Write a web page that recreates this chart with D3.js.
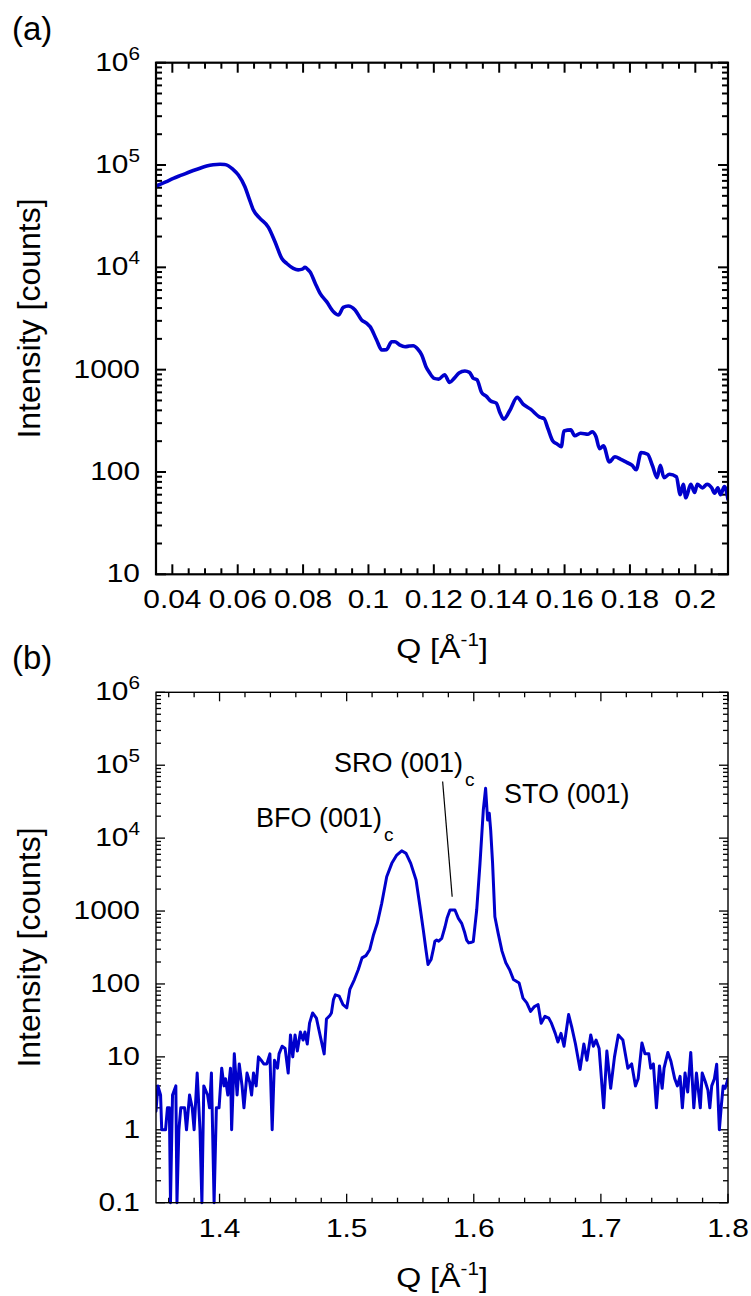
<!DOCTYPE html>
<html>
<head>
<meta charset="utf-8">
<script src="https://cdn.jsdelivr.net/npm/d3@7"></script>
<style>
  body { margin: 0; background: #fff; }
  svg { display: block; }
  text { font-family: "Liberation Sans", Arial, Helvetica, sans-serif; fill: #000; }
</style>
</head>
<body>
<svg id="fig" width="751" height="1296"></svg>
<script>
// ---- Panel (a): low-angle reflectivity, Q [1/Å] vs intensity [counts] ----
const qA = [
  0.0350, 0.0380, 0.0403, 0.0430, 0.0454, 0.0480, 0.0505, 0.0525, 0.0546, 0.0560,
  0.0571, 0.0585, 0.0602, 0.0622, 0.0635, 0.0648, 0.0668, 0.0694, 0.0714, 0.0735,
  0.0750, 0.0770, 0.0785, 0.0798, 0.0806, 0.0815, 0.0821, 0.0837, 0.0852, 0.0872,
  0.0893, 0.0908, 0.0923, 0.0938, 0.0959, 0.0979, 0.0995, 0.1005, 0.1025, 0.1041,
  0.1055, 0.1071, 0.1081, 0.1095, 0.1112, 0.1125, 0.1137, 0.1150, 0.1163, 0.1176,
  0.1186, 0.1201, 0.1215, 0.1233, 0.1248, 0.1262, 0.1277, 0.1295, 0.1309, 0.1321,
  0.1332, 0.1346, 0.1361, 0.1373, 0.1391, 0.1402, 0.1414, 0.1432, 0.1455, 0.1473,
  0.1496, 0.1526, 0.1537, 0.1549, 0.1564, 0.1578, 0.1590, 0.1598, 0.1619, 0.1631,
  0.1649, 0.1672, 0.1684, 0.1696, 0.1707, 0.1719, 0.1737, 0.1754, 0.1772, 0.1790,
  0.1807, 0.1819, 0.1834, 0.1854, 0.1869, 0.1883, 0.1893, 0.1904, 0.1921, 0.1942,
  0.1954, 0.1963, 0.1971, 0.1986, 0.1998, 0.2006, 0.2022, 0.2036, 0.2050, 0.2059,
  0.2069, 0.2077, 0.2089, 0.2100
];
const intensityA = [
  62400, 68500, 74100, 80000, 86000, 92000, 97700, 100500, 101600, 101000,
  98400, 91000, 79800, 61400, 47000, 36300, 30100, 24600, 17800, 12200,
  10900, 9780, 9450, 9600, 10000, 9500, 9060, 7000, 5570, 4620,
  3680, 3420, 4060, 4190, 3830, 3060, 2830, 2630, 1950, 1555,
  1570, 1875, 1875, 1750, 1675, 1700, 1714, 1600, 1390, 1070,
  942, 822, 809, 893, 751, 822, 927, 970, 942, 822,
  798, 600, 548, 497, 471, 382, 328, 396, 536, 461,
  411, 341, 333, 266, 201, 187, 177, 252, 258, 226,
  239, 234, 247, 222, 169, 180, 125, 141, 133, 124,
  116, 105, 155, 149, 115, 88, 116, 88, 95, 90,
  60, 76, 56, 76, 63, 76, 70, 76, 70, 62,
  70, 60, 72, 54
];
const xTicksA = [0.04, 0.06, 0.08, 0.1, 0.12, 0.14, 0.16, 0.18, 0.2];
const xTickLabelsA = ["0.04", "0.06", "0.08", "0.1", "0.12", "0.14", "0.16", "0.18", "0.2"];
const yTicksA = [10, 100, 1000, 1e4, 1e5, 1e6];
const yTickLabelsA = ["10", "100", "1000", "10^4", "10^5", "10^6"];

// ---- Panel (b): wide-angle scan around the (001) reflections ----
const qB = [
  1.3500, 1.3515, 1.3536, 1.3545, 1.3575, 1.3590, 1.3605, 1.3614, 1.3630, 1.3656,
  1.3665, 1.3680, 1.3695, 1.3725, 1.3740, 1.3764, 1.3785, 1.3800, 1.3824, 1.3846,
  1.3861, 1.3876, 1.3906, 1.3921, 1.3936, 1.3957, 1.3975, 1.3996, 1.4017, 1.4035,
  1.4047, 1.4065, 1.4086, 1.4095, 1.4116, 1.4138, 1.4155, 1.4177, 1.4192, 1.4216,
  1.4237, 1.4252, 1.4267, 1.4288, 1.4306, 1.4327, 1.4348, 1.4372, 1.4396, 1.4414,
  1.4432, 1.4456, 1.4468, 1.4492, 1.4516, 1.4540, 1.4558, 1.4576, 1.4594, 1.4612,
  1.4636, 1.4657, 1.4672, 1.4690, 1.4708, 1.4732, 1.4762, 1.4793, 1.4823, 1.4841,
  1.4868, 1.4880, 1.4896, 1.4911, 1.4941, 1.4971, 1.5001, 1.5025, 1.5061, 1.5091,
  1.5121, 1.5152, 1.5182, 1.5212, 1.5242, 1.5276, 1.5315, 1.5355, 1.5394, 1.5433,
  1.5467, 1.5504, 1.5546, 1.5577, 1.5603, 1.5624, 1.5640, 1.5664, 1.5682, 1.5694,
  1.5708, 1.5724, 1.5748, 1.5774, 1.5790, 1.5813, 1.5852, 1.5879, 1.5905, 1.5929,
  1.5944, 1.5960, 1.5975, 1.5996, 1.6023, 1.6049, 1.6075, 1.6093, 1.6109, 1.6122,
  1.6133, 1.6148, 1.6166, 1.6192, 1.6222, 1.6252, 1.6282, 1.6312, 1.6357, 1.6387,
  1.6417, 1.6447, 1.6477, 1.6506, 1.6530, 1.6560, 1.6590, 1.6611, 1.6641, 1.6662,
  1.6686, 1.6710, 1.6746, 1.6770, 1.6800, 1.6836, 1.6866, 1.6890, 1.6920, 1.6941,
  1.6962, 1.6986, 1.7022, 1.7047, 1.7077, 1.7107, 1.7137, 1.7173, 1.7212, 1.7242,
  1.7272, 1.7293, 1.7323, 1.7347, 1.7377, 1.7392, 1.7413, 1.7437, 1.7461, 1.7482,
  1.7497, 1.7527, 1.7551, 1.7581, 1.7602, 1.7623, 1.7641, 1.7662, 1.7683, 1.7707,
  1.7731, 1.7752, 1.7782, 1.7797, 1.7821, 1.7842, 1.7857, 1.7872, 1.7893, 1.7911,
  1.7932, 1.7947, 1.7962, 1.7977, 1.8000
];
const intensityB = [
  1.8, 4, 3, 1, 1, 2, 2, 0.1, 3, 4,
  0.1, 1, 2, 2, 1, 3, 2, 1, 6, 1,
  0.1, 4, 3, 2, 6, 0.1, 2, 2, 7, 4,
  5, 3, 7, 1, 11, 3, 8, 4, 2, 6,
  4.5, 3, 6, 4, 10, 9, 8, 8, 11, 1,
  9, 7, 11, 14, 13, 6, 20, 10, 20, 12,
  22, 17, 22, 15, 29, 40, 34, 19, 11, 33,
  37, 40, 61, 71, 68, 52, 47, 84, 115, 157,
  228, 245, 297, 477, 690, 1277, 2960, 4510, 5860, 6710,
  6180, 4510, 2660, 1146, 548, 292, 185, 216, 300, 386,
  400, 386, 422, 609, 800, 1033, 1033, 794, 678, 503,
  400, 366, 370, 380, 1033, 4510, 24300, 48200, 17700, 21900,
  12900, 4510, 836, 494, 282, 195, 157, 115, 103, 64,
  55, 42, 49, 52, 29, 36, 34, 29, 21, 16,
  21, 14, 38, 26, 15, 6.7, 15, 9, 20, 14,
  17, 13, 2, 12, 3.7, 10, 20, 17, 7, 8,
  4, 5, 15.5, 11, 11, 7, 8, 2, 7.5, 3.7,
  7, 11.5, 8.7, 5, 4, 5.4, 2, 6, 3.3, 11.5,
  2, 6, 2, 6, 4.6, 3.5, 2, 4, 5, 7.9,
  1, 2.1, 4, 3.7, 5
];
const xTicksB = [1.4, 1.5, 1.6, 1.7, 1.8];
const xTickLabelsB = ["1.4", "1.5", "1.6", "1.7", "1.8"];
const yTicksB = [0.1, 1, 10, 100, 1000, 1e4, 1e5, 1e6];
const yTickLabelsB = ["0.1", "1", "10", "100", "1000", "10^4", "10^5", "10^6"];

// Peak labels in panel (b): [text, subscript, Q, intensity] (text baseline-left anchor)
const peakLabels = [
  ["BFO (001)", "c", 1.4287, 14000],
  ["SRO (001)", "c", 1.4900, 81500],
  ["STO (001)", "", 1.6238, 30000]
];
// Leader from the SRO label down to its peak: [Q, intensity] end points
const sroLeader = [[1.5755, 59700], [1.5830, 1570]];

const LINE_COLOR = "#0000cc";
const TEXT_STRETCH = 1.15;   // tick and axis labels are set slightly wide

const svg = d3.select("#fig");

function setLabel(sel, label, supSize, supShift) {
  const parts = label.split("^");
  sel.append("tspan").text(parts[0]);
  if (parts.length > 1) {
    sel.append("tspan").attr("dy", -supShift).style("font-size", supSize + "px").text(parts[1]);
  }
}

function drawPanel(cfg) {
  const x = d3.scaleLinear().domain(cfg.xDomain).range([cfg.left, cfg.right]);
  const y = d3.scaleLog().domain(cfg.yDomain).range([cfg.bottom, cfg.top]);
  const g = svg.append("g");

  // ticks: minor positions on the x axis, decade sub-divisions on the y axis
  const xAll = d3.range(cfg.xMinorRange[0], cfg.xMinorRange[1] + 1).map(k => k * cfg.xMinorStep);
  const xMinor = xAll.filter((v, i) => (cfg.xMinorRange[0] + i) % cfg.xMajorEvery !== 0);
  const yMinor = [];
  const e0 = Math.round(Math.log10(cfg.yDomain[0])), e1 = Math.round(Math.log10(cfg.yDomain[1]));
  for (let e = e0; e < e1; e++) for (let m = 2; m <= 9; m++) yMinor.push(m * Math.pow(10, e));

  const tickG = g.append("g").attr("stroke", "#000").attr("stroke-width", cfg.tickWidth);
  const xt = [...cfg.xTicks.map(v => ({v, len: cfg.majorLen})), ...xMinor.map(v => ({v, len: cfg.minorLen}))];
  const yt = [...cfg.yTicks.map(v => ({v, len: cfg.majorLen})), ...yMinor.map(v => ({v, len: cfg.minorLen}))];
  tickG.selectAll(".xb").data(xt).join("line")
    .attr("x1", d => x(d.v)).attr("x2", d => x(d.v))
    .attr("y1", cfg.bottom).attr("y2", d => cfg.bottom - d.len);
  tickG.selectAll(".xt").data(xt).join("line")
    .attr("x1", d => x(d.v)).attr("x2", d => x(d.v))
    .attr("y1", cfg.top).attr("y2", d => cfg.top + d.len);
  tickG.selectAll(".yl").data(yt).join("line")
    .attr("y1", d => y(d.v)).attr("y2", d => y(d.v))
    .attr("x1", cfg.left).attr("x2", d => cfg.left + d.len);
  tickG.selectAll(".yr").data(yt).join("line")
    .attr("y1", d => y(d.v)).attr("y2", d => y(d.v))
    .attr("x1", cfg.right).attr("x2", d => cfg.right - d.len);

  // data curve, clipped to the frame
  const clipId = "clip-" + cfg.name;
  svg.append("clipPath").attr("id", clipId).append("rect")
    .attr("x", cfg.left).attr("y", cfg.top - 2)
    .attr("width", cfg.right - cfg.left).attr("height", cfg.bottom - cfg.top + 5);
  const line = d3.line()
    .x((d, i) => x(cfg.q[i]))
    .y(d => y(d))
    .curve(cfg.curve);
  g.append("path").datum(cfg.I)
    .attr("clip-path", `url(#${clipId})`)
    .attr("d", line)
    .attr("fill", "none")
    .attr("stroke", LINE_COLOR)
    .attr("stroke-width", cfg.lineWidth)
    .attr("stroke-linejoin", "round")
    .attr("stroke-linecap", "round");

  // frame
  g.append("rect")
    .attr("x", cfg.left).attr("y", cfg.top)
    .attr("width", cfg.right - cfg.left).attr("height", cfg.bottom - cfg.top)
    .attr("fill", "none").attr("stroke", "#000").attr("stroke-width", cfg.frameWidth);

  // x tick labels
  cfg.xTicks.forEach((v, i) => {
    g.append("text")
      .attr("transform", `translate(${x(v)},${cfg.bottom + 34}) scale(${TEXT_STRETCH},1)`)
      .attr("text-anchor", "middle").style("font-size", "26px")
      .text(cfg.xLabels[i]);
  });
  // y tick labels
  cfg.yTicks.forEach((v, i) => {
    const t = g.append("text")
      .attr("transform", `translate(140,${y(v) + 8}) scale(${TEXT_STRETCH},1)`)
      .attr("text-anchor", "end").style("font-size", "26px");
    setLabel(t, cfg.yLabels[i], 18, 11);
  });

  // axis titles
  const xt2 = g.append("text")
    .attr("transform", `translate(${(cfg.left + cfg.right) / 2},${cfg.bottom + 84}) scale(${TEXT_STRETCH},1)`)
    .attr("text-anchor", "middle").style("font-size", "28px");
  xt2.append("tspan").text("Q [Å");
  xt2.append("tspan").attr("dy", -12).style("font-size", "18px").text("-1");
  xt2.append("tspan").attr("dy", 12).text("]");

  g.append("text")
    .attr("transform", `translate(40,${(cfg.top + cfg.bottom) / 2}) rotate(-90)`)
    .attr("text-anchor", "middle").style("font-size", "32px")
    .text("Intensity [counts]");

  // panel tag
  g.append("text").attr("x", 12).attr("y", cfg.top - 23)
    .style("font-size", "33px").text(cfg.tag);

  return {x, y, g};
}

drawPanel({
  name: "a", tag: "(a)",
  left: 156, right: 728, top: 62.7, bottom: 574.3,
  xDomain: [0.035, 0.21], yDomain: [10, 1e6],
  xMinorStep: 0.005, xMinorRange: [7, 42], xMajorEvery: 4,
  xTicks: xTicksA, xLabels: xTickLabelsA, yTicks: yTicksA, yLabels: yTickLabelsA,
  q: qA, I: intensityA, curve: d3.curveMonotoneX, lineWidth: 3.6,
  majorLen: 10, minorLen: 6, tickWidth: 2, frameWidth: 2.2
});

const pb = drawPanel({
  name: "b", tag: "(b)",
  left: 156, right: 728, top: 692.3, bottom: 1202.7,
  xDomain: [1.35, 1.8], yDomain: [0.1, 1e6],
  xMinorStep: 0.02, xMinorRange: [68, 90], xMajorEvery: 5,
  xTicks: xTicksB, xLabels: xTickLabelsB, yTicks: yTicksB, yLabels: yTickLabelsB,
  q: qB, I: intensityB, curve: d3.curveLinear, lineWidth: 3,
  majorLen: 9, minorLen: 5, tickWidth: 1.3, frameWidth: 1.4
});

// peak annotations
peakLabels.forEach(([label, sub, q, I]) => {
  const t = pb.g.append("text")
    .attr("x", pb.x(q)).attr("y", pb.y(I))
    .style("font-size", "27px");
  t.append("tspan").text(label);
  if (sub) t.append("tspan").attr("dx", 2).attr("dy", 14).style("font-size", "19px").text(sub);
});
pb.g.append("line")
  .attr("x1", pb.x(sroLeader[0][0])).attr("y1", pb.y(sroLeader[0][1]))
  .attr("x2", pb.x(sroLeader[1][0])).attr("y2", pb.y(sroLeader[1][1]))
  .attr("stroke", "#000").attr("stroke-width", 1.2);
</script>
</body>
</html>
